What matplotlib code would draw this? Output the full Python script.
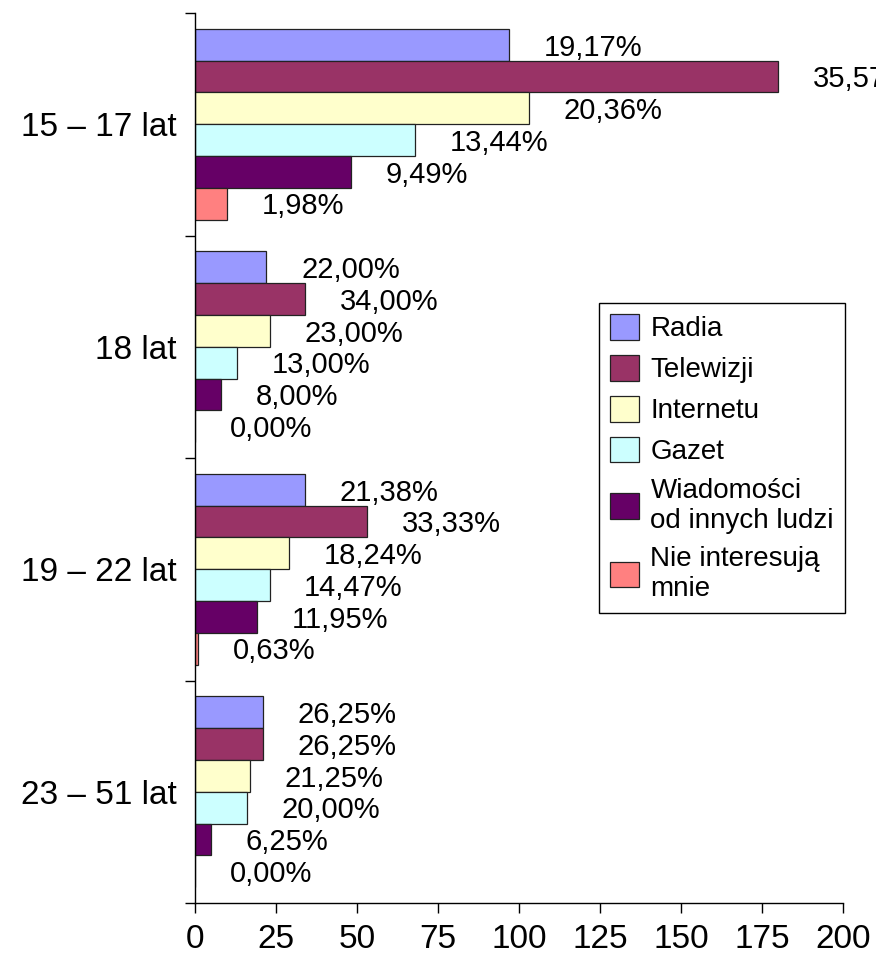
import numpy as np
import matplotlib
matplotlib.use("Agg")
import matplotlib.pyplot as plt

plt.rcParams['font.family'] = ['Liberation Sans', 'DejaVu Sans']

groups = ["15 – 17 lat", "18 lat", "19 – 22 lat", "23 – 51 lat"]
series = ["Radia", "Telewizji", "Internetu", "Gazet",
          "Wiadomości\nod innych ludzi", "Nie interesują\nmnie"]
colors = ["#9999FF", "#993366", "#FFFFCC", "#CCFFFF", "#660066", "#FF8080"]

# counts per group, one list per series
radia = [97, 22, 34, 21]
telewizji = [180, 34, 53, 21]
internetu = [103, 23, 29, 17]
gazet = [68, 13, 23, 16]
wiadomosci = [48, 8, 19, 5]
nie = [10, 0, 1, 0]

pct_radia = ["19,17%", "22,00%", "21,38%", "26,25%"]
pct_telewizji = ["35,57%", "34,00%", "33,33%", "26,25%"]
pct_internetu = ["20,36%", "23,00%", "18,24%", "21,25%"]
pct_gazet = ["13,44%", "13,00%", "14,47%", "20,00%"]
pct_wiadomosci = ["9,49%", "8,00%", "11,95%", "6,25%"]
pct_nie = ["1,98%", "0,00%", "0,63%", "0,00%"]

values = [radia, telewizji, internetu, gazet, wiadomosci, nie]
pcts = [pct_radia, pct_telewizji, pct_internetu, pct_gazet, pct_wiadomosci, pct_nie]

fig = plt.figure(figsize=(8.76, 9.57), dpi=100)
W, H = 876, 957
ax = fig.add_axes([195 / W, (H - 903) / H, (843 - 195) / W, (903 - 13) / H])

y = np.arange(len(groups))
h = 1 / 7
for i in range(len(series)):
    pos = y + (i - 2.5) * h
    ax.barh(pos, values[i], height=h, color=colors[i], edgecolor="#222222",
            linewidth=0.9, label=series[i])
    for p, v, t in zip(pos, values[i], pcts[i]):
        ax.annotate(t, xy=(v, p), xytext=(25, -2), textcoords="offset points",
                    ha="left", va="center", fontsize=21, annotation_clip=False)

ax.set_xlim(0, 200)
ax.set_ylim(3.5, -0.5)
ax.set_xticks(np.arange(0, 201, 25))
ax.tick_params(axis="x", labelsize=24, length=7, width=1, pad=8, direction="out")
ax.set_yticks(y)
ax.set_yticklabels(groups)
ax.tick_params(axis="y", which="major", labelsize=24, length=0, pad=13)
ax.set_yticks(np.arange(-0.5, 3.6, 1), minor=True)
ax.tick_params(axis="y", which="minor", length=7, width=1, direction="out")

for s in ["top", "right"]:
    ax.spines[s].set_visible(False)
for s in ["left", "bottom"]:
    ax.spines[s].set_linewidth(1)

leg = fig.legend(loc="upper left", bbox_to_anchor=(599 / W, (H - 303) / H),
                 fontsize=20, frameon=True, fancybox=False, framealpha=1,
                 edgecolor="black", handlelength=1.05, handleheight=1.05,
                 handletextpad=0.4, labelspacing=0.45, borderpad=0.4,
                 borderaxespad=0)
leg.get_frame().set_linewidth(1)

fig.savefig("out.png", dpi=100)
